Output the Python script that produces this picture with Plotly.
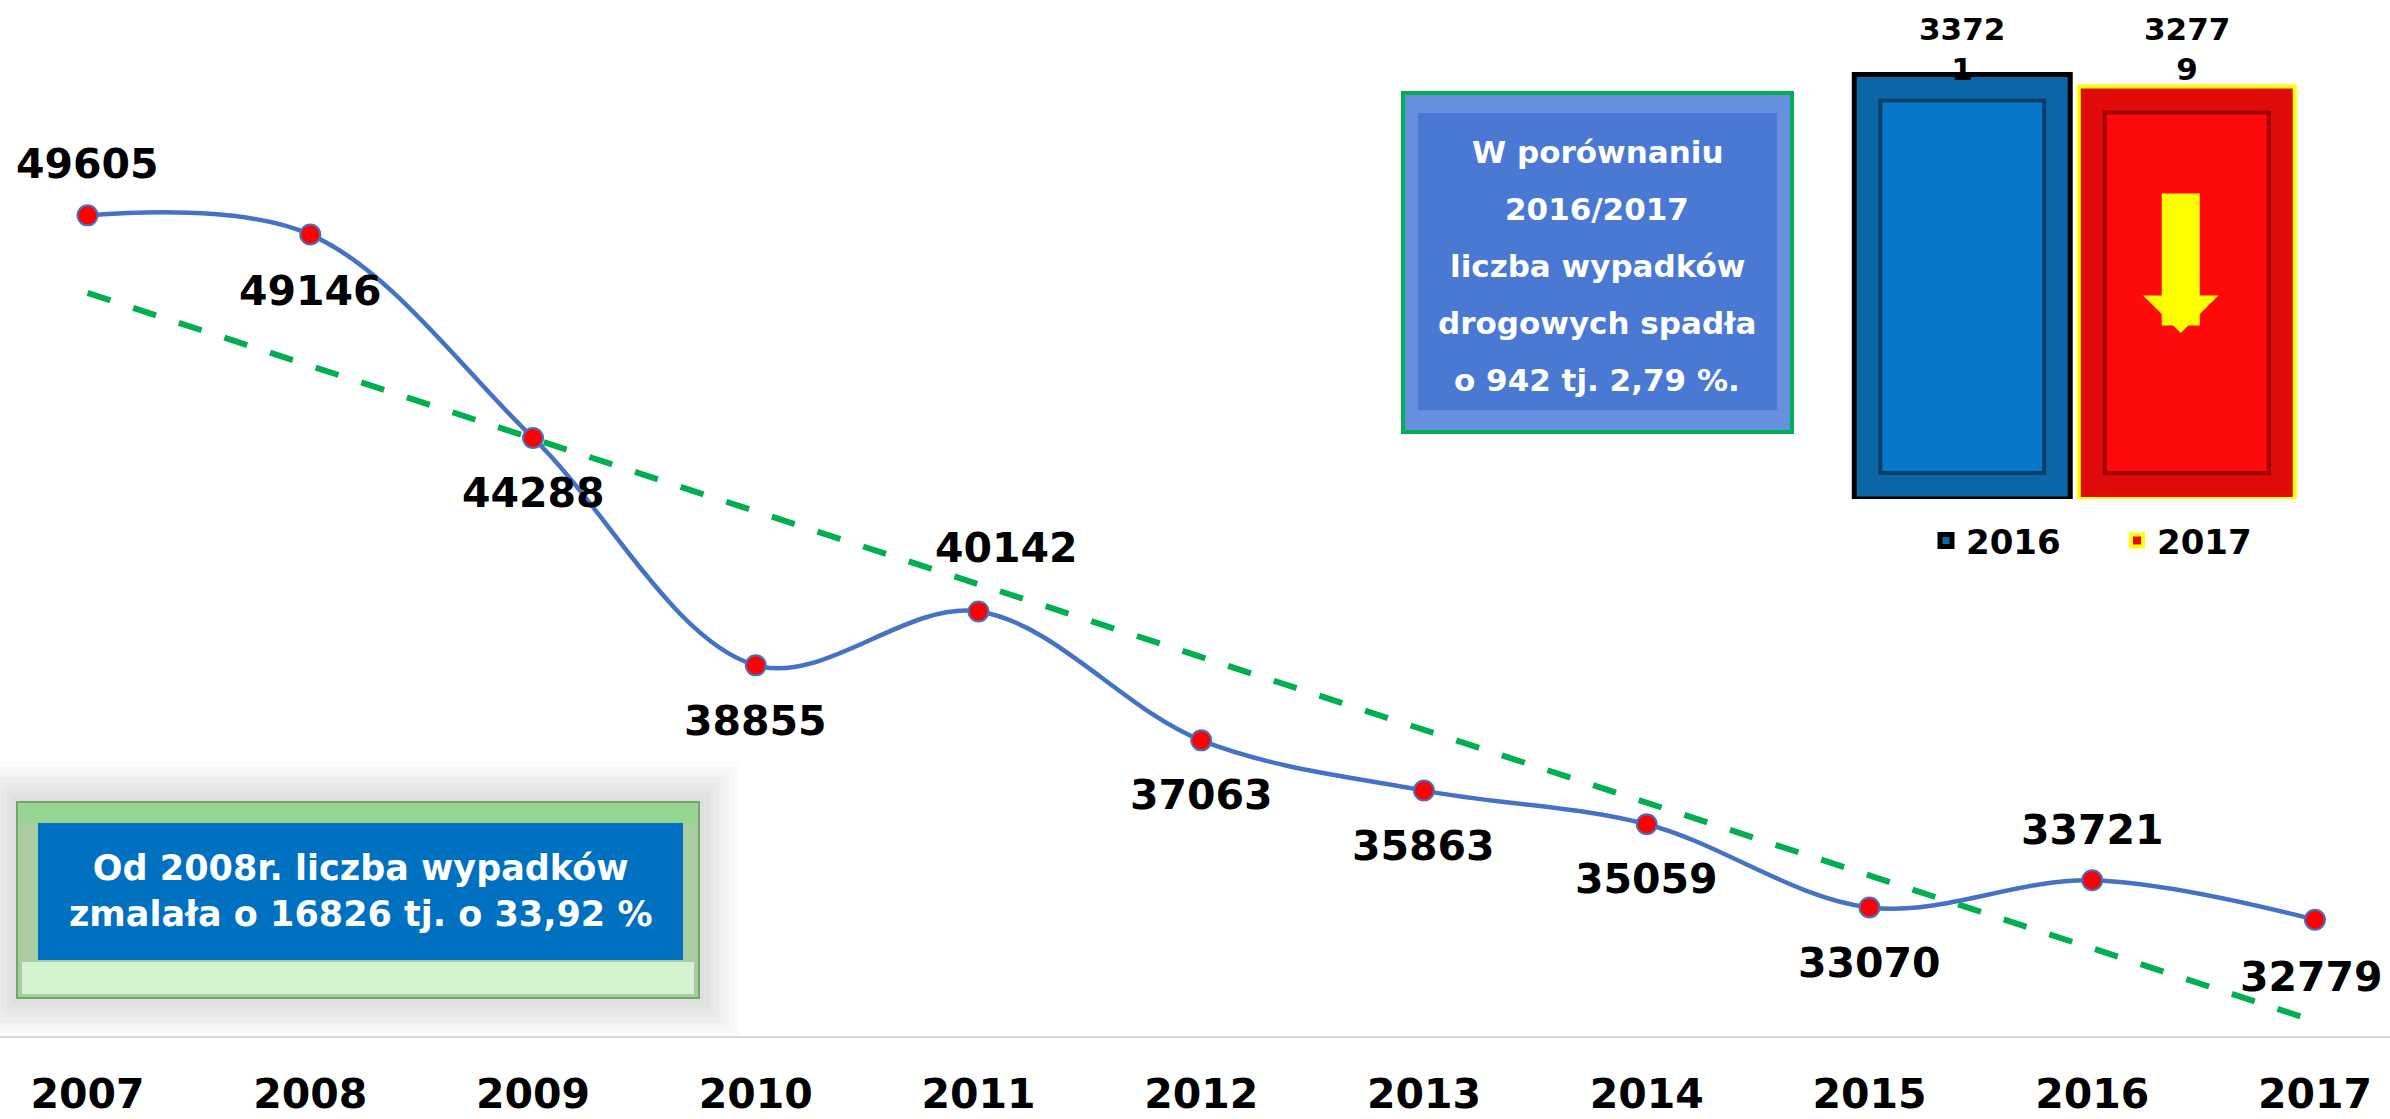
import numpy as np
import plotly.graph_objects as go

# ---------------- data ----------------
years = [2007, 2008, 2009, 2010, 2011, 2012, 2013, 2014, 2015, 2016, 2017]
accidents = [49605, 49146, 44288, 38855, 40142, 37063, 35863, 35059, 33070, 33721, 32779]
year_labels = [str(y) for y in years]

compare_years = ["2016", "2017"]
compare_values = [33721, 32779]

box_lines = ["W porównaniu", "2016/2017", "liczba wypadków", "drogowych spadła", "o 942 tj. 2,79 %."]
summary_text = "Od 2008r. liczba wypadków<br>zmalała o 16826 tj. o 33,92 %"

# ---------------- styles / positions ----------------
label_dy = [51, -56, -55, -56, 63, -55, -55, -55, -55, 50, -57]
label_dx = [0, 0, 0, 0, 28, 0, 0, 0, 0, 0, -3]
compare_fill = ["#0B66A8", "#E00A0A"]
compare_inner = ["#0677C9", "#FF0A0A"]
compare_inner_edge = ["#0A3F6A", "#A00000"]
compare_edge = ["#000000", "#FFFF00"]
compare_edge_w = [5, 4]

FONT = "DejaVu Sans"
W, H = 2390, 1119
MB = 83
PH = H - MB


def py(p):
    return (PH - p) / PH


def px(p):
    return p / W


PX_PER_UNIT = 0.041858
BAR_PX_PER_UNIT = 0.012585
BAR_SLOT_PX = 224.5
BAR_GAP = 0.038
BEVEL_PX = 26

slope, intercept = np.polyfit(years, accidents, 1)
trend_x = [years[0], years[-1]]
trend_y = [slope * x + intercept for x in trend_x]

fig = go.Figure()

# smoothed line with markers
fig.add_trace(go.Scatter(
    x=years, y=accidents, mode="lines+markers",
    line=dict(color="#4472C4", width=4.5, shape="spline", smoothing=1.0),
    marker=dict(size=20, color="#FF0000", line=dict(color="#4472C4", width=2)),
    showlegend=False, hoverinfo="skip",
))
# linear trend line
fig.add_trace(go.Scatter(
    x=trend_x, y=trend_y, mode="lines",
    line=dict(color="#00B050", width=6, dash="24px,24px"),
    showlegend=False, hoverinfo="skip",
))

# comparison bars (outer bevel frame + inner panel)
bevel_units = BEVEL_PX / BAR_PX_PER_UNIT
inner_width = (1 - BAR_GAP) - 2 * BEVEL_PX / BAR_SLOT_PX
for i, (yr, val) in enumerate(zip(compare_years, compare_values)):
    fig.add_trace(go.Bar(
        x=[yr], y=[val], name=yr, xaxis="x2", yaxis="y2",
        marker=dict(color=compare_fill[i], line=dict(color=compare_edge[i], width=compare_edge_w[i])),
        showlegend=True, hoverinfo="skip",
    ))
for i, (yr, val) in enumerate(zip(compare_years, compare_values)):
    fig.add_trace(go.Bar(
        x=[yr], y=[val - 2 * bevel_units], base=[bevel_units], xaxis="x2", yaxis="y2",
        width=[inner_width],
        marker=dict(color=compare_inner[i], line=dict(color=compare_inner_edge[i], width=4)),
        showlegend=False, hoverinfo="skip",
    ))

annotations = []
lbl_font = dict(family=FONT, size=41, color="black", weight="bold")
for x, v, dy, dx in zip(years, accidents, label_dy, label_dx):
    annotations.append(dict(
        x=x, y=v, xref="x", yref="y", text=str(v), showarrow=False,
        yanchor="middle", xanchor="center", yshift=dy, xshift=dx, font=lbl_font,
    ))

# bar labels (wrapped like the original, clamped at the top)
for i, v in enumerate(compare_values):
    s = str(v)
    annotations.append(dict(
        x=i, y=1, xref="x2", yref="y2 domain", text=s[:4] + "<br>" + s[4:],
        showarrow=False, yanchor="top", xanchor="center", yshift=-9,
        font=dict(family=FONT, size=31, color="black", weight="bold"),
    ))

# yellow down arrow in the 2017 bar
annotations.append(dict(
    x=1, y=(499 - 333) / BAR_PX_PER_UNIT, xref="x2", yref="y2", text="",
    showarrow=True, ax=0, ay=-141, arrowhead=1, arrowsize=0.33, arrowwidth=38,
    arrowcolor="#FFFF00", xshift=-6,
))

# text of the top box
for line, yc in zip(box_lines, [152, 209, 266, 323, 380]):
    annotations.append(dict(
        x=px(1597), y=py(yc), xref="paper", yref="paper", text=line, showarrow=False,
        xanchor="center", yanchor="middle",
        font=dict(family=FONT, size=31, color="white", weight="bold"),
    ))

# text of the bottom-left box
annotations.append(dict(
    x=px(360), y=py(891), xref="paper", yref="paper", text=summary_text, showarrow=False,
    xanchor="center", yanchor="middle",
    font=dict(family=FONT, size=35, color="white", weight="bold"),
))


def rect(x0, y0, x1, y1, fill, line_color=None, lw=0, layer="above"):
    return dict(type="rect", xref="paper", yref="paper",
                x0=px(x0), x1=px(x1), y0=py(y1), y1=py(y0),
                fillcolor=fill, line=dict(color=line_color or "rgba(0,0,0,0)", width=lw),
                layer=layer)


shapes = []
# soft shadow around bottom-left box
for k in range(1, 9):
    e = 5 * k
    shapes.append(rect(17 - e, 802 - e, 699 + e, 998 + e, "rgba(0,0,0,0.016)", layer="below"))
shapes.append(rect(17, 802, 699, 998, "#A9CCA2", "#6DAA66", 2))
shapes.append(rect(20, 805, 696, 823, "#96D590"))
shapes.append(rect(22, 962, 694, 994, "#D5F2D1"))
shapes.append(rect(38, 823, 683, 960, "#0070C0"))

# top box
shapes.append(rect(1403, 93, 1792, 432, "#6690DF", "#00B050", 4))
shapes.append(rect(1418, 113, 1777, 410, "#4A79D3"))

fig.update_layout(
    width=W, height=H,
    margin=dict(l=0, r=0, t=0, b=MB, autoexpand=False),
    paper_bgcolor="white", plot_bgcolor="white",
    barmode="overlay", bargap=BAR_GAP,
    xaxis=dict(
        range=[2006.607, 2017.337], tickvals=years, ticktext=year_labels,
        tickfont=dict(family=FONT, size=41, color="black", weight="bold"),
        showline=True, linecolor="#D9D9D9", linewidth=2, showgrid=False, zeroline=False,
        ticks="", ticklabelstandoff=21, automargin=False,
    ),
    yaxis=dict(range=[30000, 30000 + PH / PX_PER_UNIT], visible=False, showgrid=False,
               automargin=False),
    xaxis2=dict(domain=[px(1850), px(2299)], anchor="y2", type="category",
                range=[-0.5, 1.5], visible=False, automargin=False),
    yaxis2=dict(domain=[py(499), 1], anchor="x2", range=[0, 499 / BAR_PX_PER_UNIT],
                visible=False, automargin=False),
    legend=dict(
        orientation="h", x=px(1926), xanchor="left", y=py(541), yanchor="middle",
        font=dict(family=FONT, size=34, color="black", weight="bold"),
        bgcolor="rgba(0,0,0,0)", entrywidth=146, entrywidthmode="pixels",
    ),
    annotations=annotations,
    shapes=shapes,
)

fig.write_html("out.html", config={"displayModeBar": False},
               post_script="document.body.style.margin='0px';")
